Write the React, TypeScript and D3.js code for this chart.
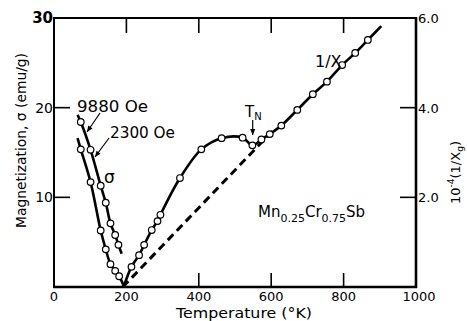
import React from "react";
import * as d3 from "d3";

// ---- data ----
const xTicks = [0, 200, 400, 600, 800, 1000];
const leftTicks = [10, 20, 30];
const rightTicks = [2.0, 4.0, 6.0];

// sigma, 9880 Oe (points) and line extent
const s9880T = [74, 101, 129, 143, 156, 169, 178];
const s9880V = [18.4, 15.3, 11.3, 9.4, 7.1, 5.8, 4.7];
const s9880LineT = [65, 74, 101, 129, 143, 156, 169, 178, 187];
const s9880LineV = [19.2, 18.4, 15.3, 11.3, 9.4, 7.1, 5.8, 4.7, 3.7];

// sigma, 2300 Oe
const s2300T = [74, 101, 129, 143, 156, 169, 180];
const s2300V = [15.35, 11.7, 6.3, 4.2, 2.55, 1.8, 1.2];
const s2300LineT = [65, 74, 101, 129, 143, 156, 169, 180, 193];
const s2300LineV = [16.6, 15.35, 11.7, 6.3, 4.2, 2.55, 1.8, 1.2, 0.1];

// 1/chi (right axis, 10^-4 units)
const invT = [214, 235, 249, 270, 286, 294, 348, 407, 463, 521, 548, 573, 596, 628, 672, 715, 754, 796, 832, 867];
const invV = [0.45, 0.71, 0.94, 1.27, 1.47, 1.61, 2.43, 3.07, 3.32, 3.33, 3.16, 3.29, 3.41, 3.6, 3.95, 4.3, 4.58, 4.95, 5.22, 5.51];
const invLineStart = [193, 0.02];
const invLineEnd = [904, 5.82];

// Curie-Weiss extrapolation (dashed)
const dashT = [190, 612];
const dashV = [0, 3.55];

const W = 467;
const H = 321;
const FONT = "DejaVu Sans, Liberation Sans, sans-serif";

export default function App() {
  const x = d3.scaleLinear().domain([0, 1000]).range([54, 416]);
  const yL = d3.scaleLinear().domain([0, 30]).range([287, 18]);
  const yR = d3.scaleLinear().domain([0, 6]).range([287, 18]);

  const lineL = d3
    .line<[number, number]>()
    .x((d) => x(d[0]))
    .y((d) => yL(d[1]))
    .curve(d3.curveCatmullRom.alpha(0.5));
  const lineR = d3
    .line<[number, number]>()
    .x((d) => x(d[0]))
    .y((d) => yR(d[1]))
    .curve(d3.curveCatmullRom.alpha(0.5));

  const a9880 = s9880LineT.map((t, i) => [t, s9880LineV[i]] as [number, number]);
  const a2300 = s2300LineT.map((t, i) => [t, s2300LineV[i]] as [number, number]);
  const inv: [number, number][] = [
    [invLineStart[0], invLineStart[1]],
    ...invT.map((t, i) => [t, invV[i]] as [number, number]),
    [invLineEnd[0], invLineEnd[1]],
  ];
  const dash = dashT.map((t, i) => [t, dashV[i]] as [number, number]);

  const x0 = x(0), x1 = x(1000), yb = yL(0), yt = yL(30);

  const arrowHead = (fx: number, fy: number, tx: number, ty: number) => {
    const ang = Math.atan2(ty - fy, tx - fx);
    const L = 6, Wd = 2.6;
    const bx = tx - L * Math.cos(ang), by = ty - L * Math.sin(ang);
    const px = -Math.sin(ang) * Wd, py = Math.cos(ang) * Wd;
    return `M${tx},${ty}L${bx + px},${by + py}L${bx - px},${by - py}Z`;
  };

  const arrows = [
    [100, 113, 87, 132],
    [109, 138, 95, 157],
    [252.7, 120, 252.7, 135],
  ];

  return (
    <svg
      width={W}
      height={H}
      style={{ position: "absolute", left: 0, top: 0, background: "#fff" }}
      fontFamily={FONT}
    >
      <rect x={0} y={0} width={W} height={H} fill="#fff" />
      {/* frame */}
      <line x1={x0} y1={yt} x2={x1} y2={yt} stroke="#000" strokeWidth={2} />
      <line x1={x0} y1={yt - 1} x2={x0} y2={yb + 1} stroke="#000" strokeWidth={2} />
      <line x1={x1} y1={yt - 1} x2={x1} y2={yb + 1} stroke="#000" strokeWidth={2.6} />
      <line x1={x0 - 1} y1={yb} x2={x1 + 1} y2={yb} stroke="#000" strokeWidth={2.4} />

      {/* ticks */}
      {[200, 400, 600, 800].map((t) => (
        <line key={"tt" + t} x1={x(t)} x2={x(t)} y1={yt} y2={yt + 15} stroke="#000" strokeWidth={1.6} />
      ))}
      {[400, 600, 800].map((t) => (
        <line key={"bt" + t} x1={x(t)} x2={x(t)} y1={yb} y2={yb - 14} stroke="#000" strokeWidth={1.6} />
      ))}
      {[10, 20].map((v) => (
        <line key={"lt" + v} x1={x0} x2={x0 + 16} y1={yL(v)} y2={yL(v)} stroke="#000" strokeWidth={1.6} />
      ))}
      {[2, 4].map((v) => (
        <line key={"rt" + v} x1={x1} x2={x1 - 16} y1={yR(v)} y2={yR(v)} stroke="#000" strokeWidth={1.6} />
      ))}

      {/* tick labels */}
      {xTicks.map((t) => (
        <text key={"xl" + t} x={x(t) + (t === 1000 ? 3 : 0)} y={301} textAnchor="middle" fontSize={13} fill="#000">
          {t}
        </text>
      ))}
      {leftTicks.map((v) => (
        <text
          key={"ll" + v}
          x={x0 - 1}
          y={yL(v) + 5}
          textAnchor="end"
          fontSize={v === 30 ? 15 : 14}
          fontWeight={v === 30 ? "bold" : "normal"}
          fill="#000"
        >
          {v}
        </text>
      ))}
      {rightTicks.map((v) => (
        <text key={"rl" + v} x={x1 + 2} y={yR(v) + 5} fontSize={13} fill="#000">
          {v.toFixed(1)}
        </text>
      ))}

      {/* axis titles */}
      <text
        transform={`translate(26,${140.5}) rotate(-90)`}
        textAnchor="middle"
        fontSize={14}
        textLength={175}
        lengthAdjust="spacingAndGlyphs"
        fill="#000"
      >
        Magnetization, σ (emu/g)
      </text>
      <text
        x={244}
        y={318}
        textAnchor="middle"
        fontSize={13.5}
        textLength={136}
        lengthAdjust="spacingAndGlyphs"
        fill="#000"
      >
        Temperature (°K)
      </text>
      <text transform={`translate(460,204) rotate(-90)`} fontSize={13} fill="#000">
        10
        <tspan fontSize={9} dy={-6}>-4</tspan>
        <tspan dy={6}>(1/X</tspan>
        <tspan fontSize={9} dy={3}>g</tspan>
        <tspan dy={-3}>)</tspan>
      </text>

      {/* curves */}
      <path d={lineL(a9880) || ""} fill="none" stroke="#000" strokeWidth={2.6} />
      <path d={lineL(a2300) || ""} fill="none" stroke="#000" strokeWidth={2.6} />
      <path d={lineR(inv) || ""} fill="none" stroke="#000" strokeWidth={2.6} />
      <path
        d={d3.line<[number, number]>().x((d) => x(d[0])).y((d) => yR(d[1]))(dash) || ""}
        fill="none"
        stroke="#000"
        strokeWidth={3}
        strokeDasharray="8,5"
      />

      {/* markers */}
      {s9880T.map((t, i) => (
        <circle key={"a" + i} cx={x(t)} cy={yL(s9880V[i])} r={3.3} fill="#fff" stroke="#000" strokeWidth={1.2} />
      ))}
      {s2300T.map((t, i) => (
        <circle key={"b" + i} cx={x(t)} cy={yL(s2300V[i])} r={3.3} fill="#fff" stroke="#000" strokeWidth={1.2} />
      ))}
      {invT.map((t, i) => (
        <circle key={"c" + i} cx={x(t)} cy={yR(invV[i])} r={3.3} fill="#fff" stroke="#000" strokeWidth={1.2} />
      ))}

      {/* annotations */}
      {arrows.map(([fx, fy, tx, ty], i) => (
        <g key={"ar" + i}>
          <line x1={fx} y1={fy} x2={tx} y2={ty} stroke="#000" strokeWidth={1.2} />
          <path d={arrowHead(fx, fy, tx, ty)} fill="#000" />
        </g>
      ))}
      <text x={77} y={112} fontSize={16} textLength={71} lengthAdjust="spacingAndGlyphs" fill="#000">
        9880 Oe
      </text>
      <text x={110} y={138} fontSize={16} textLength={65} lengthAdjust="spacingAndGlyphs" fill="#000">
        2300 Oe
      </text>
      <text x={104} y={183} fontSize={17} fill="#000">
        σ
      </text>
      <text x={245} y={117} fontSize={15} fill="#000">
        T<tspan fontSize={10} dy={3}>N</tspan>
      </text>
      <text x={315} y={67} fontSize={16} fill="#000">
        1/X
      </text>
      <text x={258} y={217} fontSize={15} fill="#000">
        Mn<tspan fontSize={11} dy={5}>0.25</tspan>
        <tspan dy={-5}>Cr</tspan>
        <tspan fontSize={11} dy={5}>0.75</tspan>
        <tspan dy={-5}>Sb</tspan>
      </text>
    </svg>
  );
}
